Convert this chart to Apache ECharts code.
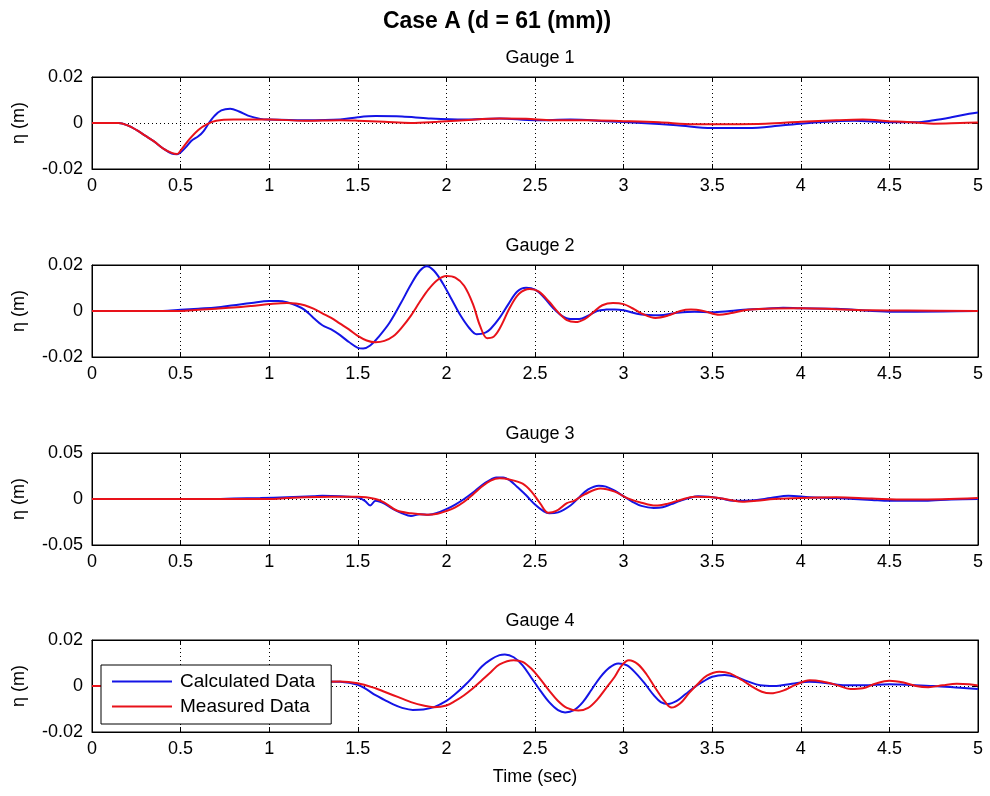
<!DOCTYPE html>
<html>
<head>
<meta charset="utf-8">
<script src="https://cdn.jsdelivr.net/npm/echarts@6/dist/echarts.min.js"></script>
<style>
html,body{margin:0;padding:0;background:#fff;}
#chart{width:990px;height:796px;}
</style>
</head>
<body>
<div id="chart"></div>
<script>
// ---- Data (time in s, surface elevation in m) ----
const mainTitle = 'Case A (d = 61 (mm))';
const gaugeNames = ['Gauge 1', 'Gauge 2', 'Gauge 3', 'Gauge 4'];
const seriesNames = ['Calculated Data', 'Measured Data'];
const xTicks = [0, 0.5, 1, 1.5, 2, 2.5, 3, 3.5, 4, 4.5, 5];
const yRanges = [[-0.02, 0.02, 0.02], [-0.02, 0.02, 0.02], [-0.05, 0.05, 0.05], [-0.02, 0.02, 0.02]];

const g1Calc = [[0,0],[0.1,0],[0.15,0],[0.2,-0.001],[0.25,-0.003],[0.3,-0.0055],[0.35,-0.008],[0.4,-0.011],[0.45,-0.0133],[0.48,-0.0136],[0.5,-0.0128],[0.53,-0.0105],[0.56,-0.0078],[0.6,-0.0058],[0.63,-0.0035],[0.66,0],[0.69,0.003],[0.73,0.0055],[0.78,0.0062],[0.83,0.005],[0.88,0.0032],[0.95,0.0018],[1.0,0.0015],[1.2,0.0012],[1.4,0.0015],[1.5,0.0025],[1.6,0.003],[1.75,0.0028],[1.9,0.002],[2.1,0.0015],[2.3,0.002],[2.5,0.0012],[2.7,0.0015],[2.9,0.0008],[3.1,0],[3.3,-0.001],[3.5,-0.0022],[3.7,-0.0022],[3.9,-0.001],[4.1,0.0003],[4.3,0.001],[4.5,0.0003],[4.65,0.0003],[4.75,0.0012],[4.85,0.0025],[4.95,0.004],[5.0,0.0046]];
const g1Meas = [[0,0],[0.15,0],[0.2,-0.001],[0.25,-0.003],[0.3,-0.0055],[0.35,-0.008],[0.4,-0.011],[0.45,-0.013],[0.48,-0.0135],[0.5,-0.012],[0.55,-0.007],[0.6,-0.003],[0.65,-0.0005],[0.7,0.001],[0.8,0.0015],[1.0,0.0015],[1.2,0.001],[1.4,0.0012],[1.5,0.001],[1.65,0.0005],[1.8,0],[1.95,0.0005],[2.1,0.0012],[2.3,0.002],[2.45,0.0018],[2.6,0.0012],[2.8,0.0012],[3.0,0.0008],[3.2,0.0003],[3.4,-0.0005],[3.6,-0.0005],[3.8,-0.0003],[4.0,0.0005],[4.2,0.0012],[4.35,0.0015],[4.5,0.0008],[4.65,0.0002],[4.75,-0.0003],[4.9,0],[5.0,0.0002]];

const g2Calc = [[0,0],[0.4,0],[0.5,0.0005],[0.6,0.001],[0.7,0.0015],[0.8,0.0025],[0.9,0.0035],[1.0,0.0043],[1.05,0.0043],[1.1,0.0038],[1.15,0.0025],[1.2,0.0005],[1.25,-0.003],[1.3,-0.0062],[1.35,-0.008],[1.4,-0.0105],[1.45,-0.0135],[1.5,-0.016],[1.53,-0.0163],[1.57,-0.015],[1.62,-0.011],[1.68,-0.005],[1.74,0.003],[1.8,0.0115],[1.85,0.0175],[1.89,0.0195],[1.93,0.0175],[1.98,0.012],[2.03,0.005],[2.08,-0.002],[2.13,-0.0075],[2.17,-0.0101],[2.22,-0.0094],[2.25,-0.0077],[2.3,-0.003],[2.35,0.003],[2.4,0.0085],[2.45,0.0101],[2.5,0.0093],[2.55,0.006],[2.6,0.0015],[2.65,-0.002],[2.7,-0.0035],[2.75,-0.0035],[2.8,-0.002],[2.85,0],[2.9,0.0006],[2.95,0.0007],[3.0,0.0003],[3.1,-0.0015],[3.2,-0.0018],[3.3,-0.0008],[3.4,-0.0003],[3.5,-0.0005],[3.6,0],[3.7,0.0007],[3.8,0.001],[3.9,0.0014],[4.0,0.0012],[4.2,0.001],[4.3,0.0005],[4.5,-0.0003],[4.8,-0.0002],[5,0]];
const g2Meas = [[0,0],[0.5,0],[0.6,0.0005],[0.7,0.001],[0.8,0.0015],[0.9,0.0022],[1.0,0.003],[1.1,0.0035],[1.15,0.0033],[1.2,0.0025],[1.25,0.001],[1.3,-0.001],[1.35,-0.003],[1.4,-0.0055],[1.45,-0.008],[1.5,-0.0108],[1.55,-0.0128],[1.6,-0.0136],[1.65,-0.013],[1.7,-0.011],[1.75,-0.007],[1.8,-0.002],[1.85,0.004],[1.9,0.0095],[1.95,0.0135],[2.0,0.0152],[2.05,0.0145],[2.1,0.011],[2.15,0.003],[2.19,-0.0065],[2.23,-0.0118],[2.26,-0.0115],[2.3,-0.0077],[2.36,0.0017],[2.41,0.0075],[2.47,0.0096],[2.52,0.0085],[2.58,0.004],[2.63,-0.0005],[2.68,-0.004],[2.73,-0.0048],[2.78,-0.0035],[2.83,-0.0005],[2.88,0.0025],[2.94,0.0035],[3.0,0.003],[3.05,0.0012],[3.1,-0.001],[3.18,-0.003],[3.25,-0.002],[3.32,0],[3.38,0.0006],[3.45,0],[3.54,-0.0016],[3.6,-0.001],[3.7,0.0005],[3.8,0.001],[4.0,0.0012],[4.2,0.0008],[4.4,0.0003],[4.6,0.0002],[5.0,0]];

const g3Calc = [[0,0],[0.7,0],[0.8,0.0005],[0.95,0.001],[1.1,0.002],[1.25,0.003],[1.3,0.0035],[1.4,0.003],[1.5,0.0015],[1.54,-0.002],[1.57,-0.007],[1.6,-0.002],[1.65,-0.005],[1.7,-0.011],[1.75,-0.0155],[1.8,-0.0185],[1.85,-0.0165],[1.9,-0.017],[1.95,-0.015],[2.0,-0.011],[2.05,-0.006],[2.1,0.0],[2.15,0.007],[2.2,0.015],[2.25,0.021],[2.28,0.0235],[2.32,0.0235],[2.36,0.02],[2.4,0.013],[2.45,0.004],[2.5,-0.006],[2.55,-0.0135],[2.58,-0.0155],[2.63,-0.0145],[2.7,-0.007],[2.75,0.002],[2.8,0.0105],[2.86,0.0145],[2.9,0.0135],[2.95,0.009],[3.0,0.003],[3.05,-0.003],[3.1,-0.0075],[3.17,-0.0097],[3.22,-0.009],[3.27,-0.0055],[3.32,-0.002],[3.37,0.001],[3.42,0.003],[3.48,0.0025],[3.55,0.0005],[3.62,-0.0018],[3.72,-0.0015],[3.83,0.001],[3.93,0.0035],[4.05,0.002],[4.2,0.001],[4.4,-0.001],[4.5,-0.002],[4.7,-0.002],[4.85,-0.0005],[5.0,0]];
const g3Meas = [[0,0],[1.0,0],[1.1,0.001],[1.2,0.002],[1.35,0.0025],[1.5,0.0025],[1.6,0.0],[1.65,-0.004],[1.72,-0.0125],[1.8,-0.0155],[1.89,-0.017],[1.95,-0.016],[2.0,-0.013],[2.05,-0.009],[2.1,-0.003],[2.15,0.005],[2.2,0.0135],[2.25,0.02],[2.3,0.0225],[2.35,0.0215],[2.43,0.0166],[2.48,0.008],[2.53,-0.005],[2.575,-0.015],[2.62,-0.013],[2.68,-0.0045],[2.72,-0.002],[2.78,0.005],[2.87,0.0115],[2.95,0.008],[3.02,0.001],[3.1,-0.004],[3.18,-0.0072],[3.25,-0.005],[3.32,-0.001],[3.4,0.0025],[3.5,0.002],[3.6,-0.001],[3.67,-0.003],[3.75,-0.002],[3.85,0],[4.0,0.0012],[4.2,0.0018],[4.4,0.0005],[4.6,-0.0005],[4.8,-0.0003],[5.0,0.001]];

const g4Calc = [[0,0],[1.0,0],[1.1,0.0008],[1.2,0.0015],[1.3,0.002],[1.4,0.0018],[1.5,0.0005],[1.55,-0.0015],[1.6,-0.004],[1.65,-0.006],[1.7,-0.008],[1.75,-0.0095],[1.81,-0.0104],[1.87,-0.0102],[1.93,-0.0092],[2.0,-0.0065],[2.05,-0.0035],[2.1,0],[2.15,0.004],[2.2,0.0085],[2.25,0.0115],[2.3,0.0134],[2.33,0.0137],[2.38,0.0125],[2.43,0.009],[2.48,0.0035],[2.53,-0.002],[2.58,-0.007],[2.63,-0.0105],[2.67,-0.0115],[2.72,-0.0105],[2.77,-0.007],[2.82,-0.0015],[2.87,0.004],[2.92,0.008],[2.97,0.0098],[3.02,0.009],[3.07,0.0055],[3.12,0.001],[3.17,-0.004],[3.21,-0.007],[3.25,-0.0078],[3.3,-0.0065],[3.35,-0.0035],[3.4,-0.0005],[3.45,0.002],[3.5,0.004],[3.57,0.0048],[3.63,0.004],[3.7,0.002],[3.77,0.0003],[3.85,0],[3.95,0.001],[4.05,0.0018],[4.15,0.0012],[4.25,0.0003],[4.35,0.0003],[4.5,0.0008],[4.6,0.0005],[4.75,0],[4.9,-0.0008],[5.0,-0.0013]];
const g4Meas = [[0,0],[1.1,0],[1.2,0.001],[1.3,0.0018],[1.4,0.002],[1.5,0.0012],[1.6,-0.001],[1.65,-0.0025],[1.7,-0.004],[1.75,-0.0055],[1.8,-0.007],[1.87,-0.0085],[1.93,-0.0092],[2.0,-0.0085],[2.05,-0.0065],[2.1,-0.004],[2.15,-0.001],[2.2,0.0025],[2.25,0.006],[2.3,0.0094],[2.38,0.0112],[2.43,0.0105],[2.48,0.0075],[2.53,0.003],[2.58,-0.002],[2.63,-0.0065],[2.68,-0.0095],[2.745,-0.0107],[2.8,-0.0095],[2.85,-0.006],[2.9,-0.001],[2.95,0.004],[2.99,0.009],[3.03,0.0112],[3.08,0.0095],[3.13,0.005],[3.18,-0.001],[3.23,-0.0065],[3.27,-0.0094],[3.32,-0.0075],[3.37,-0.003],[3.42,0.001],[3.47,0.0045],[3.54,0.0062],[3.6,0.0055],[3.67,0.0025],[3.73,-0.0005],[3.78,-0.0025],[3.83,-0.0032],[3.9,-0.002],[3.97,0.0005],[4.05,0.0025],[4.12,0.002],[4.2,0.0005],[4.28,-0.0013],[4.35,-0.001],[4.42,0.001],[4.5,0.0023],[4.58,0.0015],[4.65,0],[4.72,-0.0005],[4.8,0.0003],[4.88,0.001],[4.95,0.0008],[5.0,0.0002]];

const calcData = [g1Calc, g2Calc, g3Calc, g4Calc];
const measData = [g1Meas, g2Meas, g3Meas, g4Meas];

// ---- Layout ----
const FONT = '"Liberation Sans", Arial, Helvetica, sans-serif';
const gridTops = [77, 265, 453, 640];
const gridH = 92;
const gridLeft = 92, gridRight = 12;
const blue = '#1414e6', red = '#e8121a';

const grids = [], xAxes = [], yAxes = [], series = [], titles = [];
titles.push({
  text: mainTitle, left: 492, top: 5, textAlign: 'center',
  textStyle: { fontFamily: FONT, fontSize: 23, fontWeight: 'bold', color: '#000' }
});
const dotted = { color: '#000', type: [1, 3], width: 1 };
const solidAxis = { show: true, onZero: false, lineStyle: { color: '#000', width: 1 } };
const inTick = { show: true, inside: true, length: 5, lineStyle: { color: '#000' } };
for (let i = 0; i < 4; i++) {
  grids.push({ left: gridLeft, right: gridRight, top: gridTops[i], height: gridH,
    show: true, borderColor: '#000', borderWidth: 1, backgroundColor: '#fff' });
  titles.push({
    text: gaugeNames[i], left: (gridLeft + 990 - gridRight) / 2, top: gridTops[i] - 33, textAlign: 'center',
    textStyle: { fontFamily: FONT, fontSize: 18, fontWeight: 'normal', color: '#000' }
  });
  const [ymin, ymax, yint] = yRanges[i];
  xAxes.push({
    gridIndex: i, type: 'value', min: xTicks[0], max: xTicks[xTicks.length - 1], interval: 0.5,
    position: 'bottom',
    name: i === 3 ? 'Time (sec)' : '', nameLocation: 'middle', nameGap: 36,
    nameTextStyle: { fontFamily: FONT, fontSize: 18, color: '#000' },
    axisLine: solidAxis, axisTick: inTick,
    axisLabel: { show: true, margin: 8, fontFamily: FONT, fontSize: 18, color: '#000' },
    splitLine: { show: true, showMinLine: false, showMaxLine: false, lineStyle: dotted }
  });
  xAxes.push({
    gridIndex: i, type: 'value', min: xTicks[0], max: xTicks[xTicks.length - 1], interval: 0.5,
    position: 'top',
    axisLine: solidAxis, axisTick: inTick,
    axisLabel: { show: false }, splitLine: { show: false }
  });
  yAxes.push({
    gridIndex: i, type: 'value', min: ymin, max: ymax, interval: yint, position: 'left',
    name: 'η (m)', nameLocation: 'middle', nameGap: 64,
    nameTextStyle: { fontFamily: FONT, fontSize: 18, color: '#000' },
    axisLine: solidAxis, axisTick: inTick,
    axisLabel: { show: true, margin: 9, fontFamily: FONT, fontSize: 18, color: '#000' },
    splitLine: { show: true, showMinLine: false, showMaxLine: false, lineStyle: dotted }
  });
  yAxes.push({
    gridIndex: i, type: 'value', min: ymin, max: ymax, interval: yint, position: 'right',
    axisLine: solidAxis, axisTick: inTick,
    axisLabel: { show: false }, splitLine: { show: false }
  });
  series.push({
    name: seriesNames[0], type: 'line', xAxisIndex: 2 * i, yAxisIndex: 2 * i,
    data: calcData[i], symbol: 'none', smooth: 0.35, animation: false,
    lineStyle: { color: blue, width: 2 }, itemStyle: { color: blue }
  });
  series.push({
    name: seriesNames[1], type: 'line', xAxisIndex: 2 * i, yAxisIndex: 2 * i,
    data: measData[i], symbol: 'none', smooth: 0.35, animation: false,
    lineStyle: { color: red, width: 2 }, itemStyle: { color: red }
  });
}

const chart = echarts.init(document.getElementById('chart'), null, { renderer: 'canvas' });
chart.setOption({
  backgroundColor: '#fff',
  animation: false,
  title: titles,
  grid: grids,
  xAxis: xAxes,
  yAxis: yAxes,
  legend: {
    data: seriesNames.map(n => ({ name: n, icon: 'rect' })),
    orient: 'vertical', left: 101, top: 665,
    itemWidth: 60, itemHeight: 2, itemGap: 6,
    padding: [7, 16, 8, 11],
    backgroundColor: '#fff', borderColor: '#000', borderWidth: 1, borderRadius: 0,
    textStyle: { fontFamily: FONT, fontSize: 19, color: '#000', padding: [0, 0, 0, 3] },
    selectedMode: false
  },
  series: series
});
</script>
</body>
</html>
